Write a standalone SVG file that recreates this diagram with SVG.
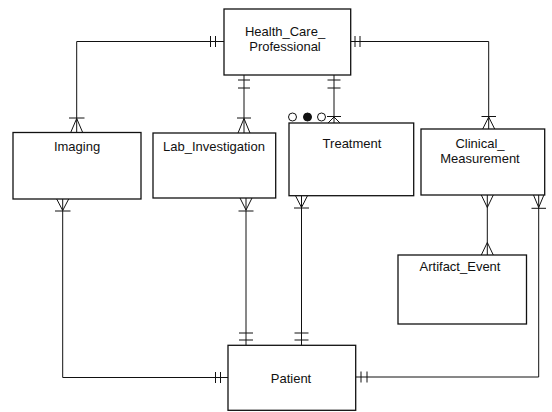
<svg xmlns="http://www.w3.org/2000/svg" width="552" height="412" viewBox="0 0 552 412">
<style>
.box{fill:#fff;stroke:#111;stroke-width:1.3}
.t{font-family:"Liberation Sans",Arial,sans-serif;font-size:13px;fill:#111;text-anchor:middle}
.c{fill:none;stroke:#111;stroke-width:1}
</style>
<rect width="552" height="412" fill="#fff"/>
<g id="connectors" class="c">
<!-- HCP - Imaging -->
<path d="M224,41.5 H76.7 V132.5"/>
<path d="M210.5,36 V47 M215.5,36 V47"/>
<path d="M69,118 H84.5 M70.7,132.5 L76.7,118.5 L82.7,132.5"/>
<!-- HCP - Lab -->
<path d="M244,75 V133"/>
<path d="M238,80 H250 M238,88 H250"/>
<path d="M237,118 H251 M238,133 L244,118.5 L250,133"/>
<!-- HCP - Treatment -->
<path d="M334,75 V123"/>
<path d="M327.5,80 H340.5 M327.5,88 H340.5"/>
<path d="M327,116.5 H341 M328,123 L334,117 L340,123"/>
<!-- HCP - Clinical -->
<path d="M350.7,41.5 H488.7 V129"/>
<path d="M355,36 V47 M360,36 V47"/>
<path d="M481.5,116.5 H496 M482.7,129 L488.7,117 L494.7,129"/>
<!-- Imaging - Patient -->
<path d="M62.7,199 V377.5 H228"/>
<path d="M56.7,199 L62.7,210.5 L68.7,199 M55,211 H70.5"/>
<path d="M215.5,372 V383 M220.5,372 V383"/>
<!-- Lab - Patient -->
<path d="M246,198 V345.3"/>
<path d="M240,198 L246,210 L252,198 M238.5,211 H253.5"/>
<path d="M239,333 H253 M239,340 H253"/>
<!-- Treatment - Patient -->
<path d="M301.5,195.7 V345.3"/>
<path d="M295.5,195.7 L301.5,207.5 L307.5,195.7 M294,208 H309"/>
<path d="M294.5,333 H308.5 M294.5,340 H308.5"/>
<!-- Clinical - Artifact -->
<path d="M487.3,195 V255"/>
<path d="M481.3,195 L487.3,207.5 L493.3,195"/>
<path d="M481.3,255 L487.3,242.5 L493.3,255"/>
<!-- Clinical - Patient -->
<path d="M538.7,195 V377 H355.7"/>
<path d="M533.5,195 L538.7,207.5 L543.9,195 M531.5,208.3 H546"/>
<path d="M361,371.5 V382.5 M367,371.5 V382.5"/>
</g>
<g id="treatment-optionality">
<circle cx="292.5" cy="117" r="4" fill="#fff" stroke="#111" stroke-width="1"/>
<circle cx="307.5" cy="117" r="4" fill="#111" stroke="#111" stroke-width="1"/>
<circle cx="321.5" cy="117" r="4" fill="#fff" stroke="#111" stroke-width="1"/>
</g>
<g id="hcp">
<rect class="box" x="224" y="9" width="126.7" height="66"/>
<text class="t" x="285" y="36">Health_Care_</text>
<text class="t" x="285" y="50.5">Professional</text>
</g>
<g id="imaging">
<rect class="box" x="13" y="132.5" width="128" height="66.5"/>
<text class="t" x="77" y="151">Imaging</text>
</g>
<g id="lab">
<rect class="box" x="153" y="133" width="122.7" height="65"/>
<text class="t" x="214" y="151">Lab_Investigation</text>
</g>
<g id="treatment">
<rect class="box" x="289" y="123" width="124.7" height="72.7"/>
<text class="t" x="352" y="148">Treatment</text>
</g>
<g id="clinical">
<rect class="box" x="421" y="129" width="123.7" height="66"/>
<text class="t" x="480" y="148">Clinical_</text>
<text class="t" x="480" y="163">Measurement</text>
</g>
<g id="artifact">
<rect class="box" x="398" y="255" width="128.5" height="69"/>
<text class="t" x="460" y="271">Artifact_Event</text>
</g>
<g id="patient">
<rect class="box" x="228" y="345.3" width="127.7" height="65"/>
<text class="t" x="291" y="383">Patient</text>
</g>
</svg>
